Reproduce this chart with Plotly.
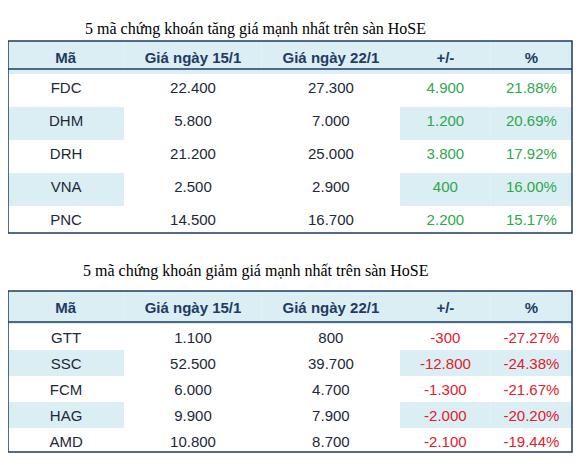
import plotly.graph_objects as go

headers = ["Mã", "Giá ngày 15/1", "Giá ngày 22/1", "+/-", "%"]

up_title = "5 mã chứng khoán tăng giá mạnh nhất trên sàn HoSE"
up_codes = ["FDC", "DHM", "DRH", "VNA", "PNC"]
up_p15 = ["22.400", "5.800", "21.200", "2.500", "14.500"]
up_p22 = ["27.300", "7.000", "25.000", "2.900", "16.700"]
up_chg = ["4.900", "1.200", "3.800", "400", "2.200"]
up_pct = ["21.88%", "20.69%", "17.92%", "16.00%", "15.17%"]

down_title = "5 mã chứng khoán giảm giá mạnh nhất trên sàn HoSE"
down_codes = ["GTT", "SSC", "FCM", "HAG", "AMD"]
down_p15 = ["1.100", "52.500", "6.000", "9.900", "10.800"]
down_p22 = ["800", "39.700", "4.700", "7.900", "8.700"]
down_chg = ["-300", "-12.800", "-1.300", "-2.000", "-2.100"]
down_pct = ["-27.27%", "-24.38%", "-21.67%", "-20.20%", "-19.44%"]

LIGHT = "#dbeef4"
NAVY = "#1f3b63"
TEXT = "#1e2838"
W, H = 583, 465
OFF = 8  # page body margin

fig = go.Figure()


def px(x):
    return (x - OFF) / W


def py(y):
    return 1 - (y - OFF) / H


def add_table(cols, col_color, top, bottom, head_h, row_h):
    band = [LIGHT if i % 2 else "white" for i in range(5)]
    white = ["white"] * 5
    fig.add_trace(go.Table(
        domain=dict(x=[px(8), px(572)], y=[py(bottom), py(top)]),
        columnwidth=[0.206, 0.244, 0.245, 0.161, 0.144],
        header=dict(values=["<b>%s</b>" % h for h in headers],
                    fill_color=LIGHT, line=dict(width=0, color=LIGHT),
                    font=dict(family="Liberation Sans", size=15, color=NAVY),
                    align="center", height=head_h),
        cells=dict(values=cols,
                   fill_color=[band, white, white, band, band],
                   line=dict(width=0, color="white"),
                   font=dict(family="Liberation Sans", size=15,
                             color=[TEXT, TEXT, TEXT, col_color, col_color]),
                   align="center", height=row_h),
    ))
    # outer border and header underline
    fig.add_shape(type="rect", xref="paper", yref="paper",
                  x0=px(8), x1=px(572), y0=py(bottom), y1=py(top),
                  line=dict(color=NAVY, width=1.5))
    fig.add_shape(type="line", xref="paper", yref="paper",
                  x0=px(8), x1=px(572), y0=py(top + head_h), y1=py(top + head_h),
                  line=dict(color=NAVY, width=1.5))


add_table([up_codes, up_p15, up_p22, up_chg, up_pct], "#2ea84a", 41, 233, 28, 33)
add_table([down_codes, down_p15, down_p22, down_chg, down_pct], "#e0202a", 291, 452, 31, 26)

for txt, y in [(up_title, 18), (down_title, 271)]:
    fig.add_annotation(text=txt, x=px(255), y=py(y), xref="paper", yref="paper",
                       showarrow=False, font=dict(family="Liberation Serif", size=16, color="black"))

fig.update_layout(width=W, height=H, margin=dict(l=0, r=0, t=0, b=0),
                  paper_bgcolor="white", plot_bgcolor="white")
fig.write_html("out.html")
